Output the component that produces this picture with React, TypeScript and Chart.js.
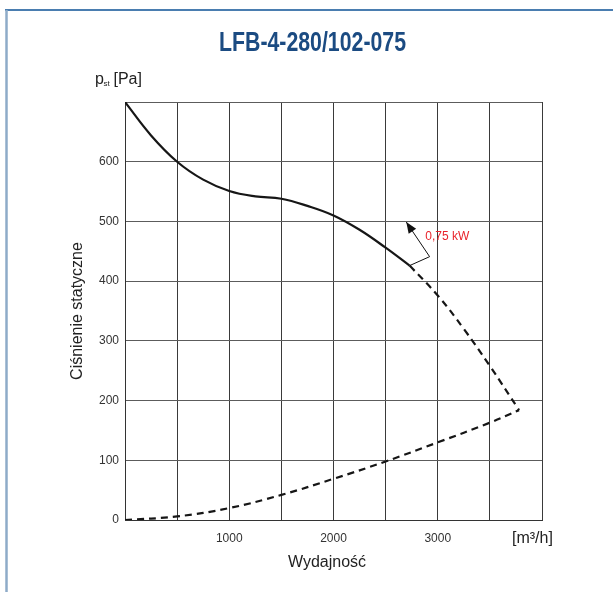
import React, { useEffect, useRef } from 'react';
import { Chart, registerables } from 'chart.js';

Chart.register(...registerables);

// ---- texts ----
const TITLE = 'LFB-4-280/102-075';
const Y_TITLE = 'Ciśnienie statyczne';
const X_TITLE = 'Wydajność';
const X_UNIT = '[m³/h]';
const Y_UNIT_MAIN = 'p';
const Y_UNIT_SUB = 'st';
const Y_UNIT_REST = ' [Pa]';
const POWER_LABEL = '0,75 kW';

// ---- axes ----
const X_MIN = 0;
const X_MAX = 4000;
const X_STEP = 500;
const Y_MIN = 0;
const Y_MAX = 700;
const Y_STEP = 100;
const X_LABELED = [1000, 2000, 3000];
const Y_LABELED = [0, 100, 200, 300, 400, 500, 600];

// ---- series ----
// fan curve (solid)
const solidX = [0, 250, 500, 750, 1000, 1250, 1500, 1750, 2000, 2250, 2500, 2730];
const solidY = [700, 644, 600, 570, 551, 542, 538, 526, 510, 486, 456, 426];
// continuation (dashed)
const stallX = [2730, 3000, 3250, 3500, 3780];
const stallY = [426, 376, 320, 258, 184];
// system curve (dashed)
const lowerX = [0, 500, 1000, 1500, 2000, 2500, 3000, 3500, 3780];
const lowerY = [0, 6, 20, 42, 69, 98, 130, 163, 184];
// power annotation arrow (data space)
const arrowX = [2730, 2922, 2698];
const arrowY = [426, 441, 499];
const powerLabelX = 2880;
const powerLabelY = 474;

const FONT = '"Liberation Sans", Arial, Helvetica, sans-serif';

const toPts = (xs: number[], ys: number[]) => xs.map((v, i) => ({ x: v, y: ys[i] }));

const decor = {
  id: 'decor',
  afterDraw(chart: any) {
    const { ctx, scales } = chart;
    const xs = scales.x;
    const ys = scales.y;
    ctx.save();

    // frame
    ctx.lineWidth = 2;
    ctx.strokeStyle = '#4a7db0';
    ctx.beginPath();
    ctx.moveTo(5, 10);
    ctx.lineTo(613, 10);
    ctx.stroke();
    ctx.lineWidth = 2.5;
    ctx.strokeStyle = '#8eabc8';
    ctx.beginPath();
    ctx.moveTo(6.5, 10);
    ctx.lineTo(6.5, 592);
    ctx.stroke();

    // title (condensed bold)
    ctx.save();
    ctx.font = `bold 28px ${FONT}`;
    const tw = ctx.measureText(TITLE).width;
    ctx.translate(312.5, 51);
    ctx.scale(187 / tw, 1);
    ctx.fillStyle = '#1b4b82';
    ctx.textAlign = 'center';
    ctx.textBaseline = 'alphabetic';
    ctx.fillText(TITLE, 0, 0);
    ctx.restore();

    // p_st [Pa]
    ctx.fillStyle = '#222';
    ctx.textAlign = 'left';
    ctx.textBaseline = 'alphabetic';
    ctx.font = `16px ${FONT}`;
    ctx.fillText(Y_UNIT_MAIN, 95, 84);
    ctx.font = `8px ${FONT}`;
    ctx.fillText(Y_UNIT_SUB, 103.5, 86);
    ctx.font = `16px ${FONT}`;
    ctx.fillText(Y_UNIT_REST, 109, 84);

    // y title
    ctx.save();
    ctx.translate(78, 311);
    ctx.rotate(-Math.PI / 2);
    ctx.textAlign = 'center';
    ctx.textBaseline = 'middle';
    ctx.font = `16px ${FONT}`;
    ctx.fillStyle = '#222';
    ctx.fillText(Y_TITLE, 0, 0);
    ctx.restore();

    // x title and unit
    ctx.textAlign = 'center';
    ctx.textBaseline = 'middle';
    ctx.font = `16px ${FONT}`;
    ctx.fillStyle = '#222';
    ctx.fillText(X_TITLE, 327, 563);
    ctx.textAlign = 'left';
    ctx.textBaseline = 'alphabetic';
    ctx.fillText(X_UNIT, 512, 543);

    // power annotation
    const px = arrowX.map((v) => xs.getPixelForValue(v));
    const py = arrowY.map((v) => ys.getPixelForValue(v));
    ctx.strokeStyle = '#111';
    ctx.lineWidth = 1;
    ctx.beginPath();
    ctx.moveTo(px[0], py[0]);
    ctx.lineTo(px[1], py[1]);
    ctx.lineTo(px[2], py[2]);
    ctx.stroke();
    const ang = Math.atan2(py[2] - py[1], px[2] - px[1]);
    const L = 11;
    const W = 4.5;
    const bx = px[2] - L * Math.cos(ang);
    const by = py[2] - L * Math.sin(ang);
    ctx.fillStyle = '#111';
    ctx.beginPath();
    ctx.moveTo(px[2], py[2]);
    ctx.lineTo(bx + W * Math.sin(ang), by - W * Math.cos(ang));
    ctx.lineTo(bx - W * Math.sin(ang), by + W * Math.cos(ang));
    ctx.closePath();
    ctx.fill();

    ctx.fillStyle = '#e8232b';
    ctx.font = `12px ${FONT}`;
    ctx.textAlign = 'left';
    ctx.textBaseline = 'middle';
    ctx.fillText(POWER_LABEL, xs.getPixelForValue(powerLabelX), ys.getPixelForValue(powerLabelY));

    ctx.restore();
  },
};

export default function App() {
  const ref = useRef<HTMLCanvasElement>(null);

  useEffect(() => {
    if (!ref.current) return;
    const chart = new Chart(ref.current, {
      type: 'line',
      data: {
        datasets: [
          {
            data: toPts(solidX, solidY),
            borderColor: '#161616',
            borderWidth: 2.2,
            pointRadius: 0,
            tension: 0.4,
            fill: false,
          },
          {
            data: toPts(stallX, stallY),
            borderColor: '#161616',
            borderWidth: 2.2,
            borderDash: [7, 5],
            pointRadius: 0,
            tension: 0.4,
            fill: false,
          },
          {
            data: toPts(lowerX, lowerY),
            borderColor: '#161616',
            borderWidth: 2.2,
            borderDash: [7, 5],
            pointRadius: 0,
            tension: 0.4,
            fill: false,
          },
        ],
      },
      options: {
        animation: false,
        responsive: true,
        maintainAspectRatio: false,
        layout: { padding: { left: 0, top: 102, right: 71, bottom: 0 } },
        plugins: {
          legend: { display: false },
          title: { display: false },
          tooltip: { enabled: false },
        },
        scales: {
          x: {
            type: 'linear',
            min: X_MIN,
            max: X_MAX,
            afterFit: (s: any) => {
              s.height = 72;
            },
            afterBuildTicks: (s: any) => {
              const t = [];
              for (let v = X_MIN; v <= X_MAX; v += X_STEP) t.push({ value: v });
              s.ticks = t;
            },
            ticks: {
              autoSkip: false,
              maxRotation: 0,
              padding: 11,
              color: '#333',
              font: { family: FONT, size: 12 },
              callback: (v: any) => (X_LABELED.includes(Number(v)) ? String(v) : ''),
            },
            grid: { color: '#3a3a3a', lineWidth: 1, drawTicks: false },
            border: { color: '#333', width: 1 },
          },
          y: {
            type: 'linear',
            min: Y_MIN,
            max: Y_MAX,
            afterFit: (s: any) => {
              s.width = 125;
            },
            afterBuildTicks: (s: any) => {
              const t = [];
              for (let v = Y_MIN; v <= Y_MAX; v += Y_STEP) t.push({ value: v });
              s.ticks = t;
            },
            ticks: {
              autoSkip: false,
              padding: 6,
              color: '#333',
              font: { family: FONT, size: 12 },
              callback: (v: any) => (Y_LABELED.includes(Number(v)) ? String(v) : ''),
            },
            grid: { color: '#5c5c5c', lineWidth: 1, drawTicks: false },
            border: { color: '#333', width: 1 },
          },
        },
      },
      plugins: [decor],
    });
    return () => chart.destroy();
  }, []);

  return (
    <div style={{ position: 'fixed', left: 0, top: 0, width: 613, height: 592, background: '#fff' }}>
      <canvas ref={ref} />
    </div>
  );
}
